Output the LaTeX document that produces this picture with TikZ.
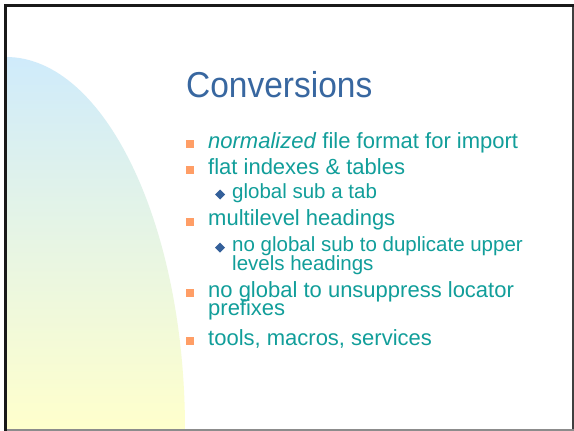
\documentclass[tikz,border=0pt]{standalone}
\usepackage{graphicx}
\usepackage{fontspec}
\setmainfont{Liberation Sans}
\definecolor{titleblue}{HTML}{3867A0}
\definecolor{bodyteal}{HTML}{119E9A}
\definecolor{bulletorange}{HTML}{FF9E66}
\definecolor{subblue}{HTML}{34609A}
\definecolor{skyblue}{HTML}{CFEBFB}
\definecolor{paleyellow}{HTML}{FFFFCC}
\tikzset{
  x=1pt, y=-1pt,
  titletext/.style={anchor=base west, inner sep=0pt, text=titleblue,
    font=\fontsize{36}{36}\selectfont},
  bodytext/.style={anchor=base west, inner sep=0pt, text=bodyteal,
    font=\fontsize{22}{22}\selectfont},
  subtext/.style={anchor=base west, inner sep=0pt, text=bodyteal,
    font=\fontsize{20.5}{20.5}\selectfont},
  wrapped/.style={text depth=0pt},
  sqbullet/.style={fill=bulletorange, draw=none},
  dmbullet/.style={fill=subblue, draw=none}
}
% square bullet sitting on a baseline
\newcommand{\sqmark}[1]{\fill[sqbullet] (186,#1-8) rectangle (194,#1);}
% diamond bullet centred just above a baseline
\newcommand{\dmmark}[1]{\fill[dmbullet] (215,#1-4) -- (220,#1-9) -- (225,#1-4) -- (220,#1+1) -- cycle;}
\begin{document}
\begin{tikzpicture}
\useasboundingbox (0,0) rectangle (574,431);
\fill[white] (0,0) rectangle (574,431);

% curved gradient panel on the left
\shade[top color=skyblue, bottom color=paleyellow]
  (6,57) .. controls (104.4,57) and (185,224) .. (185,430) -- (6,430) -- cycle;

% slide frame
\draw[line width=1.2pt, black!75] (573,5) -- (573,430);
\draw[line width=1.1pt, black!45] (5,430) -- (573.7,430);
\draw[line width=2.4pt, black!90] (5.3,431) -- (5.3,5.3) -- (574,5.3);

% title
\node[titletext] (title) at (186,97.5) {\scalebox{0.93}[1]{Conversions}};

% bullets
\sqmark{148}
\node[bodytext] (b1) at (208,148) {\textit{normalized} file format for import};
\sqmark{174}
\node[bodytext] (b2) at (208,174) {flat indexes \& tables};
\dmmark{198.5}
\node[subtext] (b2a) at (232,198.5) {global sub a tab};
\sqmark{225.5}
\node[bodytext] (b3) at (208,225.5) {multilevel headings};
\dmmark{251.5}
\node[subtext, wrapped] (b3a) at (232,251.5) {no global sub to duplicate upper};
\node[subtext] (b3b) at (232,270) {levels headings};
\sqmark{297}
\node[bodytext, wrapped] (b4) at (208,297) {no global to unsuppress locator};
\node[bodytext] (b4b) at (208,315.5) {prefixes};
\sqmark{345}
\node[bodytext] (b5) at (208,345) {tools, macros, services};
\end{tikzpicture}
\end{document}
